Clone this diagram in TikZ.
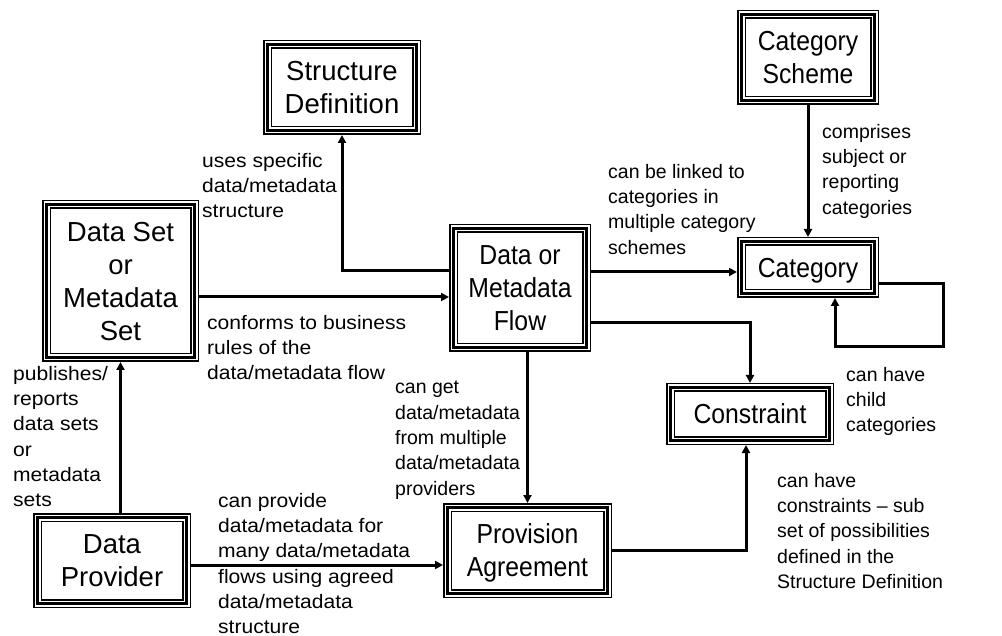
\documentclass[tikz,border=0pt]{standalone}
\usepackage{fontspec}
\setmainfont{Liberation Sans}
\newfontfamily\narrowfont[FakeStretch=0.9]{Liberation Sans}
\newfontfamily\widefont[FakeStretch=1.08]{Liberation Sans}
\usetikzlibrary{arrows.meta}

\tikzset{
  % triple frame: thin, thick, thin
  entity/.style={draw,line width=9pt,
    postaction={draw=white,line width=6pt},
    postaction={draw=black,line width=3pt},
    inner sep=0pt,align=center,text depth=0pt,
    font=\fontsize{27.5}{33}\selectfont},
  slim/.style={entity,font=\narrowfont\fontsize{27.5}{33}\selectfont},
  note/.style={anchor=north west,inner sep=0pt,align=left,
    font=\fontsize{19.5}{25.3}\selectfont},
  widenote/.style={note,font=\widefont\fontsize{19.5}{25.3}\selectfont},
  link/.style={->,line width=3pt}
}

\begin{document}
\begin{tikzpicture}[x=1pt,y=-1pt,>={Triangle[length=8pt,width=8pt]}]
  \useasboundingbox (0,0) rectangle (1002,636);

  % boxes
  \node[entity,minimum width=149pt,minimum height=86pt] (sd) at (342,87.5) {Structure\\Definition};
  \node[slim,minimum width=133pt,minimum height=86pt] (cs) at (808,57.5) {Category\\Scheme};
  \node[slim,minimum width=133pt,minimum height=52pt] (cat) at (808,267.5) {Category};
  \node[slim,minimum width=133pt,minimum height=119pt] (flow) at (520,288) {Data or\\Metadata\\Flow};
  \node[entity,minimum width=148pt,minimum height=153pt] (dsms) at (120.5,281) {Data Set\\or\\Metadata\\Set};
  \node[entity,minimum width=149pt,minimum height=86pt] (dp) at (112,560.5) {Data\\Provider};
  \node[slim,minimum width=160pt,minimum height=86pt] (pa) at (527.5,550.5) {Provision\\Agreement};
  \node[slim,minimum width=159pt,minimum height=53pt] (con) at (750,414) {Constraint};

  \coordinate (catloop) at (943,347);

  % connectors
  \draw[link] ([yshift=-16pt]dsms.east) -- ([yshift=-9pt]flow.west);
  \draw[link] ([yshift=17pt]flow.west) -| (sd.south);
  \draw[link] ([yshift=16pt]flow.east) -- ([yshift=-4.5pt]cat.west);
  \draw[link] (cs.south) -- (cat.north);
  \draw[link] ([yshift=-16.5pt]cat.east) -| (catloop) -| ([xshift=27pt]cat.south);
  \draw[link] ([yshift=-35pt]flow.east) -| (con.north);
  \draw[link] (pa.north |- flow.south) -- (pa.north);
  \draw[link] (pa.east) -| ([xshift=-4pt]con.south);
  \draw[link] (dp.north -| dsms.south) -- (dsms.south);
  \draw[link] ([yshift=-4.5pt]dp.east) -- ([yshift=-14.5pt]pa.west);

  % labels
  \node[widenote] (uses) at (202,153) {uses specific\\data/metadata\\structure};
  \node[note] (linked) at (608,164) {can be linked to\\categories in\\multiple category\\schemes};
  \node[note] (comprises) at (822,124) {comprises\\subject or\\reporting\\categories};
  \node[widenote] (conforms) at (207,315) {conforms to business\\rules of the\\data/metadata flow};
  \node[widenote] (publishes) at (13,366) {publishes/\\reports\\data sets\\or\\metadata\\sets};
  \node[note] (canget) at (395,381) {can get\\data/metadata\\from multiple\\data/metadata\\providers};
  \node[widenote] (provide) at (218,493) {can provide\\data/metadata for\\many data/metadata\\flows using agreed\\data/metadata\\structure};
  \node[note] (child) at (846,367) {can have\\child\\categories};
  \node[note] (subset) at (777,473) {can have\\constraints – sub\\set of possibilities\\defined in the\\Structure Definition};
\end{tikzpicture}
\end{document}
